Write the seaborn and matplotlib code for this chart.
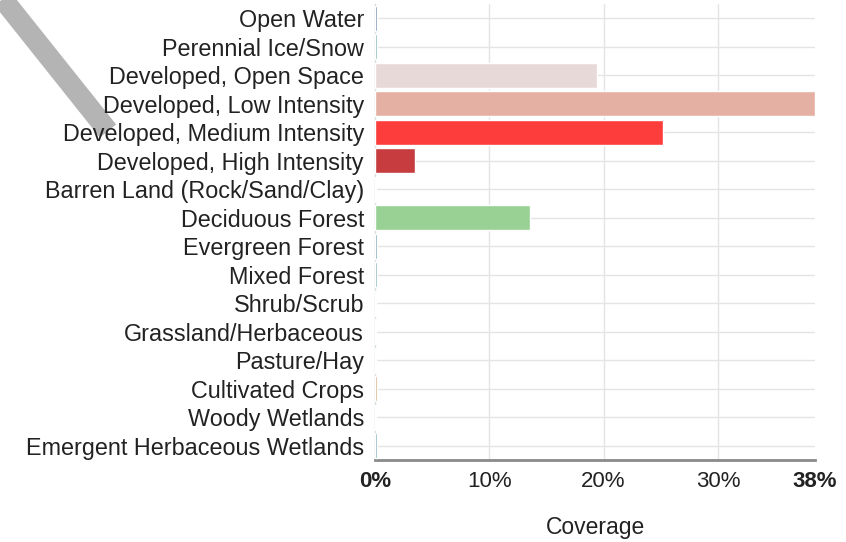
import matplotlib
matplotlib.use('Agg')
import matplotlib.pyplot as plt
import seaborn as sns
import pandas as pd
from matplotlib.lines import Line2D

# data
categories = ['Open Water', 'Perennial Ice/Snow', 'Developed, Open Space',
              'Developed, Low Intensity', 'Developed, Medium Intensity',
              'Developed, High Intensity', 'Barren Land (Rock/Sand/Clay)',
              'Deciduous Forest', 'Evergreen Forest', 'Mixed Forest',
              'Shrub/Scrub', 'Grassland/Herbaceous', 'Pasture/Hay',
              'Cultivated Crops', 'Woody Wetlands', 'Emergent Herbaceous Wetlands']
coverage = [0.15, 0.15, 19.4, 38.5, 25.2, 3.5, 0.05, 13.6,
            0.15, 0.15, 0.1, 0.08, 0.1, 0.15, 0.08, 0.15]
colors = ['#6a80a8', '#74b0b0', '#e8d9d9', '#e4b0a4', '#fd3c3c', '#c63c3f',
          '#d4d0c4', '#99d094', '#6aa2ac', '#7cb0b6', '#e0c89c', '#eee6a8',
          '#eee070', '#d0a874', '#c8dceb', '#74aab4']
tick_vals = [0, 10, 20, 30, 38.5]
tick_labels = ['0%', '10%', '20%', '30%', '38%']

df = pd.DataFrame({'category': categories, 'coverage': coverage})

sns.set_style('white')
plt.rcParams['font.family'] = ['Liberation Sans', 'DejaVu Sans']

fig = plt.figure(figsize=(8.46, 5.42), dpi=100)
ax = fig.add_axes([0.4433, 0.1513, 0.5201, 0.8413])
ax.set_axisbelow(True)

sns.barplot(data=df, x='coverage', y='category', hue='category', palette=colors,
            orient='h', width=0.88, legend=False, saturation=1, ax=ax)
for p in ax.patches:
    p.set_zorder(3)

ax.set_xlim(0, 38.5)
ax.set_ylim(15.5, -0.5)
ax.set_xticks(tick_vals)
ax.set_xticklabels(tick_labels, fontsize=16, color='#222222')
for i in (0, len(tick_labels) - 1):
    ax.get_xticklabels()[i].set_fontweight('bold')
ax.tick_params(axis='y', labelsize=16.8, colors='#222222', length=0, pad=8)
ax.tick_params(axis='x', length=0, pad=8)
ax.grid(True, color='#e4e4e4', linewidth=1)
ax.xaxis.get_gridlines()[-1].set_visible(False)
ax.xaxis.get_gridlines()[0].set_visible(False)
ax.set_ylabel('')
ax.set_xlabel('Coverage', fontsize=16.5, color='#222222', labelpad=17)

for s in ['top', 'right']:
    ax.spines[s].set_visible(False)
ax.spines['left'].set_color('#d4dde0')
ax.spines['left'].set_linewidth(1)
ax.spines['left'].set_zorder(1)
ax.spines['bottom'].set_color('#8a8a8a')
ax.spines['bottom'].set_linewidth(2)

# grey diagonal ribbon in the top-left corner
W, H = 846, 542
fig.add_artist(Line2D([-6 / W, 108 / W], [1 - (-12) / H, 1 - 131 / H],
                      transform=fig.transFigure, color='#b4b4b4',
                      linewidth=15, solid_capstyle='butt', zorder=0))

fig.savefig('out.png', dpi=100)
